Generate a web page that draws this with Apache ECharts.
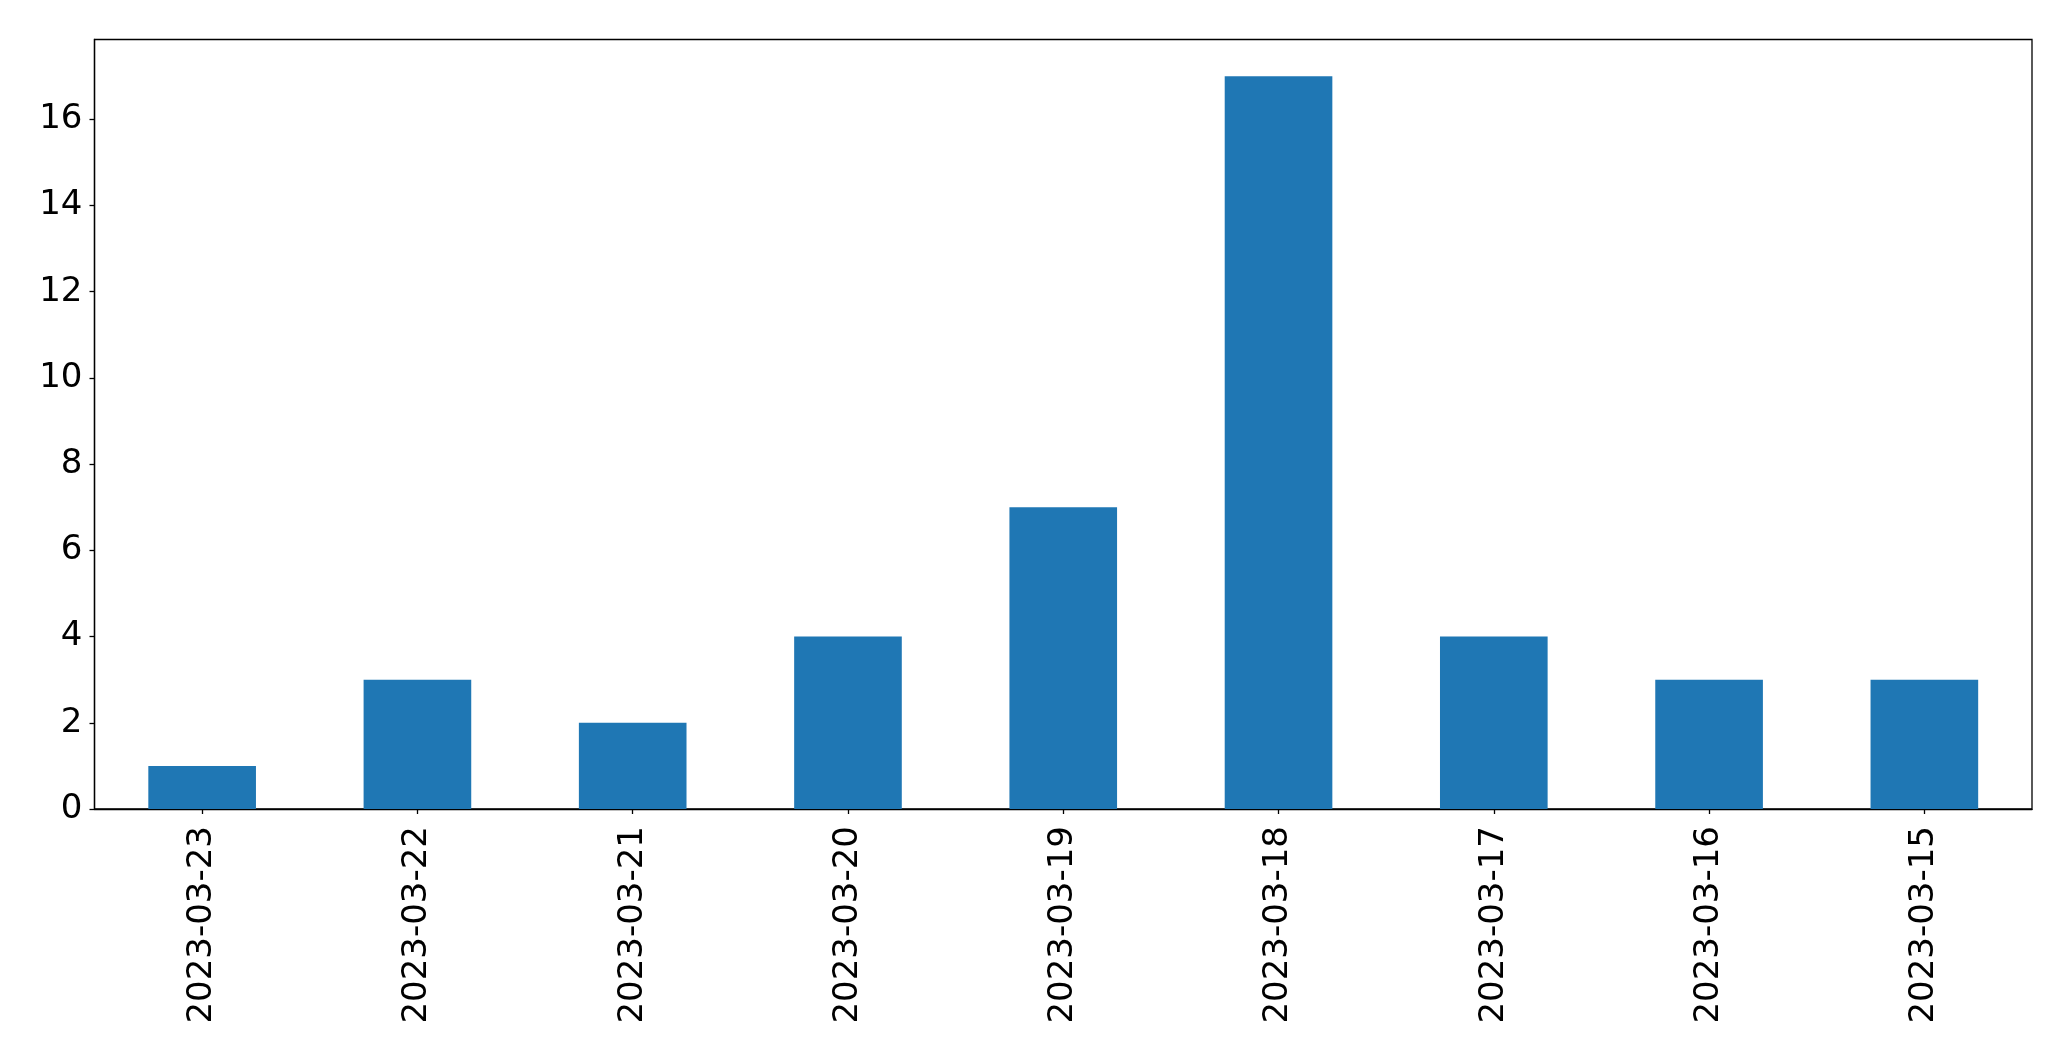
<!DOCTYPE html>
<html>
<head>
<meta charset="utf-8">
<script src="https://cdn.jsdelivr.net/npm/echarts@6/dist/echarts.min.js"></script>
<style>html,body{margin:0;padding:0;background:#fff;}#c{width:2071px;height:1061px;}</style>
</head>
<body>
<div id="c"></div>
<script>
const categories = ["2023-03-23","2023-03-22","2023-03-21","2023-03-20","2023-03-19","2023-03-18","2023-03-17","2023-03-16","2023-03-15"];
const values = [1, 3, 2, 4, 7, 17, 4, 3, 3];
const yMax = 17.85;
const yInterval = 2;

const chart = echarts.init(document.getElementById('c'), null, {renderer: 'canvas'});
const font = 'DejaVu Sans';
chart.setOption({
  animation: false,
  backgroundColor: '#ffffff',
  grid: {left: 94.5, right: 39, top: 39.5, bottom: 252, show: true, borderColor: '#000', borderWidth: 1.3, backgroundColor: 'transparent'},
  xAxis: {
    type: 'category',
    data: categories,
    axisLine: {show: true, lineStyle: {color: '#000', width: 1.3}},
    axisTick: {show: true, alignWithLabel: true, length: 5, lineStyle: {color: '#000', width: 1.3}},
    axisLabel: {rotate: 90, color: '#000', fontFamily: font, fontSize: 34, margin: 17, interval: 0},
    splitLine: {show: false}
  },
  yAxis: {
    type: 'value',
    min: 0, max: yMax, interval: yInterval,
    axisLine: {show: true, lineStyle: {color: '#000', width: 1.3}},
    axisTick: {show: true, length: 5, lineStyle: {color: '#000', width: 1.3}},
    axisLabel: {color: '#000', fontFamily: font, fontSize: 34, margin: 12, showMaxLabel: false},
    splitLine: {show: false}
  },
  series: [{
    type: 'bar',
    data: values,
    barWidth: '50%',
    itemStyle: {color: '#1f77b4'}
  }]
});
</script>
</body>
</html>
